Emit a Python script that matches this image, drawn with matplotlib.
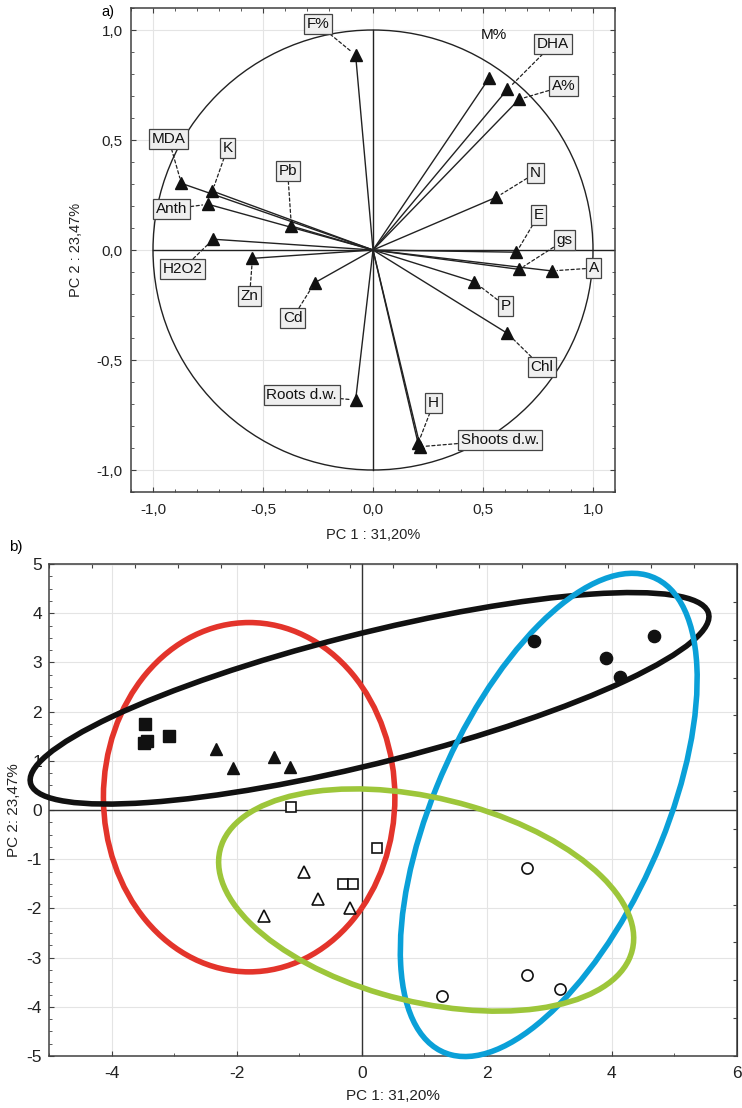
import numpy as np
import matplotlib
matplotlib.use("Agg")
import matplotlib.pyplot as plt
from matplotlib.patches import Ellipse, Circle
from matplotlib.ticker import FuncFormatter, MultipleLocator, NullFormatter

plt.rcParams['font.family'] = ['Liberation Sans', 'DejaVu Sans']
plt.rcParams['axes.unicode_minus'] = False

# a) loadings plot - variable coordinates on PC1 / PC2
var_names = ["F%", "MDA", "K", "Anth", "Pb", "H2O2", "Zn", "Cd", "Roots d.w.",
             "Shoots d.w.", "H", "Chl", "P", "A", "gs", "E", "N", "A%", "DHA", "M%"]
var_pc1 = [-0.079, -0.871, -0.730, -0.750, -0.371, -0.726, -0.548, -0.265, -0.079,
           0.215, 0.205, 0.611, 0.459, 0.812, 0.664, 0.652, 0.561, 0.664, 0.611, 0.527]
var_pc2 = [0.886, 0.303, 0.268, 0.208, 0.109, 0.049, -0.038, -0.149, -0.682,
           -0.894, -0.879, -0.379, -0.144, -0.095, -0.088, -0.010, 0.240, 0.685, 0.730, 0.780]
# label anchor positions (data units)
lab_x = [-0.251, -0.929, -0.661, -0.915, -0.388, -0.865, -0.561, -0.365, -0.324,
         0.576, 0.276, 0.767, 0.603, 1.003, 0.871, 0.753, 0.739, 0.867, 0.817, 0.548]
lab_y = [1.027, 0.505, 0.464, 0.186, 0.359, -0.086, -0.209, -0.309, -0.659,
         -0.864, -0.695, -0.532, -0.255, -0.082, 0.045, 0.159, 0.350, 0.745, 0.936, 0.977]
lab_boxed = [True] * 19 + [False]

# b) scores plot - six groups
sq_f_x = [-3.47, -3.44, -3.48, -3.08]
sq_f_y = [1.75, 1.41, 1.36, 1.51]
tri_f_x = [-2.33, -2.06, -1.41, -1.15]
tri_f_y = [1.25, 0.85, 1.07, 0.87]
cir_f_x = [2.76, 3.90, 4.13, 4.67]
cir_f_y = [3.43, 3.08, 2.71, 3.54]
sq_o_x = [-1.13, 0.24, -0.30, -0.14]
sq_o_y = [0.07, -0.77, -1.50, -1.50]
tri_o_x = [-0.93, -0.70, -0.19, -1.57]
tri_o_y = [-1.27, -1.81, -2.00, -2.15]
cir_o_x = [2.65, 2.65, 3.17, 1.29]
cir_o_y = [-1.18, -3.36, -3.64, -3.79]

# ellipses: centre, full width, full height, angle (deg), colour
ell_cx = [-1.80, 0.125, 2.99, 1.03]
ell_cy = [0.26, 2.27, -0.10, -1.83]
ell_w = [4.66, 11.38, 10.24, 6.92]
ell_h = [7.10, 2.60, 3.76, 4.07]
ell_ang = [0.0, 18.0, 72.3, -20.5]
ell_col = ["#e3342b", "#111111", "#0aa0d8", "#9dc63a"]

fig = plt.figure(figsize=(7.42, 11.08), dpi=100)
frame_col = "#404040"
comma = FuncFormatter(lambda v, p: f"{v:.1f}".replace(".", ","))

# ---------------- a) ----------------
ax = fig.add_axes([131 / 742, 616 / 1108, 484 / 742, 484 / 1108])
ax.set_xlim(-1.1, 1.1)
ax.set_ylim(-1.1, 1.1)
ax.xaxis.set_major_locator(MultipleLocator(0.5))
ax.yaxis.set_major_locator(MultipleLocator(0.5))
ax.xaxis.set_minor_locator(MultipleLocator(0.1))
ax.yaxis.set_minor_locator(MultipleLocator(0.1))
ax.xaxis.set_major_formatter(comma)
ax.yaxis.set_major_formatter(comma)
ax.tick_params(which="both", direction="in", top=True, right=True, colors=frame_col,
               labelcolor="#222222", labelsize=11)
ax.tick_params(which="major", length=3.5)
ax.tick_params(which="minor", length=2.5)
ax.tick_params(axis="x", pad=8)
ax.tick_params(axis="y", pad=6)
ax.grid(True, which="major", color="#e4e4e4", lw=0.8)
ax.set_axisbelow(True)
for s in ax.spines.values():
    s.set_color(frame_col)
    s.set_linewidth(1.1)

ax.add_patch(Circle((0, 0), 1.0, fill=False, ec="#222222", lw=1.0))
ax.plot([0, 0], [-1, 1], color="#222222", lw=1.0)
ax.plot([-1, 1.1], [0, 0], color="#222222", lw=1.0)

for i in range(len(var_names)):
    ax.plot([0, var_pc1[i]], [0, var_pc2[i]], color="#222222", lw=1.0)
ax.plot(var_pc1, var_pc2, "^", color="#111111", ms=8, zorder=5)

for i in range(len(var_names)):
    if lab_boxed[i]:
        ax.annotate(var_names[i], xy=(var_pc1[i], var_pc2[i]), xytext=(lab_x[i], lab_y[i]),
                    ha="center", va="center", fontsize=11, color="#111111",
                    bbox=dict(boxstyle="square,pad=0.18", fc="#efefef", ec="#444444", lw=0.9),
                    arrowprops=dict(arrowstyle="-", ls=(0, (2.5, 2)), color="#222222", lw=0.9,
                                    shrinkA=0, shrinkB=4),
                    zorder=6)
    else:
        ax.text(lab_x[i], lab_y[i], var_names[i], ha="center", va="center",
                fontsize=11, color="#111111")

ax.set_xlabel("PC 1 : 31,20%", fontsize=10.5, color="#222222", labelpad=8)
ax.set_ylabel("PC 2 : 23,47%", fontsize=10.5, color="#222222", labelpad=10)
fig.text(108 / 742, 1 - 12 / 1108, "a)", fontsize=10.5, ha="center", va="center")

# ---------------- b) ----------------
bx = fig.add_axes([49 / 742, 52 / 1108, 688 / 742, 492 / 1108])
bx.set_xlim(-5, 6)
bx.set_ylim(-5, 5)
bx.xaxis.set_major_locator(MultipleLocator(2))
bx.yaxis.set_major_locator(MultipleLocator(1))
bx.xaxis.set_minor_locator(MultipleLocator(1))
bx.yaxis.set_minor_locator(MultipleLocator(0.25))
bx.tick_params(which="both", direction="in", colors=frame_col, labelcolor="#222222",
               labelsize=12.5)
bx.tick_params(which="major", length=3.5)
bx.tick_params(which="minor", length=2.5)
bx.tick_params(axis="x", pad=7)
bx.tick_params(axis="y", pad=5)
bx.grid(True, which="major", color="#e4e4e4", lw=0.8)
bx.set_axisbelow(True)
for s in bx.spines.values():
    s.set_color(frame_col)
    s.set_linewidth(1.1)

topx = bx.secondary_xaxis("top")
topx.set_xticks(np.linspace(-5, 6, 17))
topx.xaxis.set_major_formatter(NullFormatter())
topx.tick_params(direction="in", length=3, colors=frame_col)
rgty = bx.secondary_yaxis("right")
rgty.set_yticks(np.linspace(-5, 5, 14))
rgty.yaxis.set_major_formatter(NullFormatter())
rgty.tick_params(direction="in", length=3, colors=frame_col)

bx.axhline(0, color="#333333", lw=1.0)
bx.axvline(0, color="#333333", lw=1.0)

for i in range(len(ell_cx)):
    bx.add_patch(Ellipse((ell_cx[i], ell_cy[i]), ell_w[i], ell_h[i], angle=ell_ang[i],
                         fill=False, ec=ell_col[i], lw=4.0, clip_on=False, zorder=3))

bx.plot(sq_f_x, sq_f_y, "s", color="#111111", ms=8.8, zorder=5)
bx.plot(tri_f_x, tri_f_y, "^", color="#111111", ms=8.5, zorder=5)
bx.plot(cir_f_x, cir_f_y, "o", color="#111111", ms=8.8, zorder=5)
bx.plot(sq_o_x, sq_o_y, "s", mfc="white", mec="#111111", mew=1.2, ms=7.8, zorder=5)
bx.plot(tri_o_x, tri_o_y, "^", mfc="white", mec="#111111", mew=1.2, ms=8.3, zorder=5)
bx.plot(cir_o_x, cir_o_y, "o", mfc="white", mec="#111111", mew=1.2, ms=8.0, zorder=5)

bx.set_xlabel("PC 1: 31,20%", fontsize=11, color="#222222", labelpad=6)
bx.set_ylabel("PC 2: 23,47%", fontsize=11, color="#222222", labelpad=4)
fig.text(16 / 742, 1 - 547 / 1108, "b)", fontsize=11, ha="center", va="center")

fig.savefig("out.png", dpi=100)
